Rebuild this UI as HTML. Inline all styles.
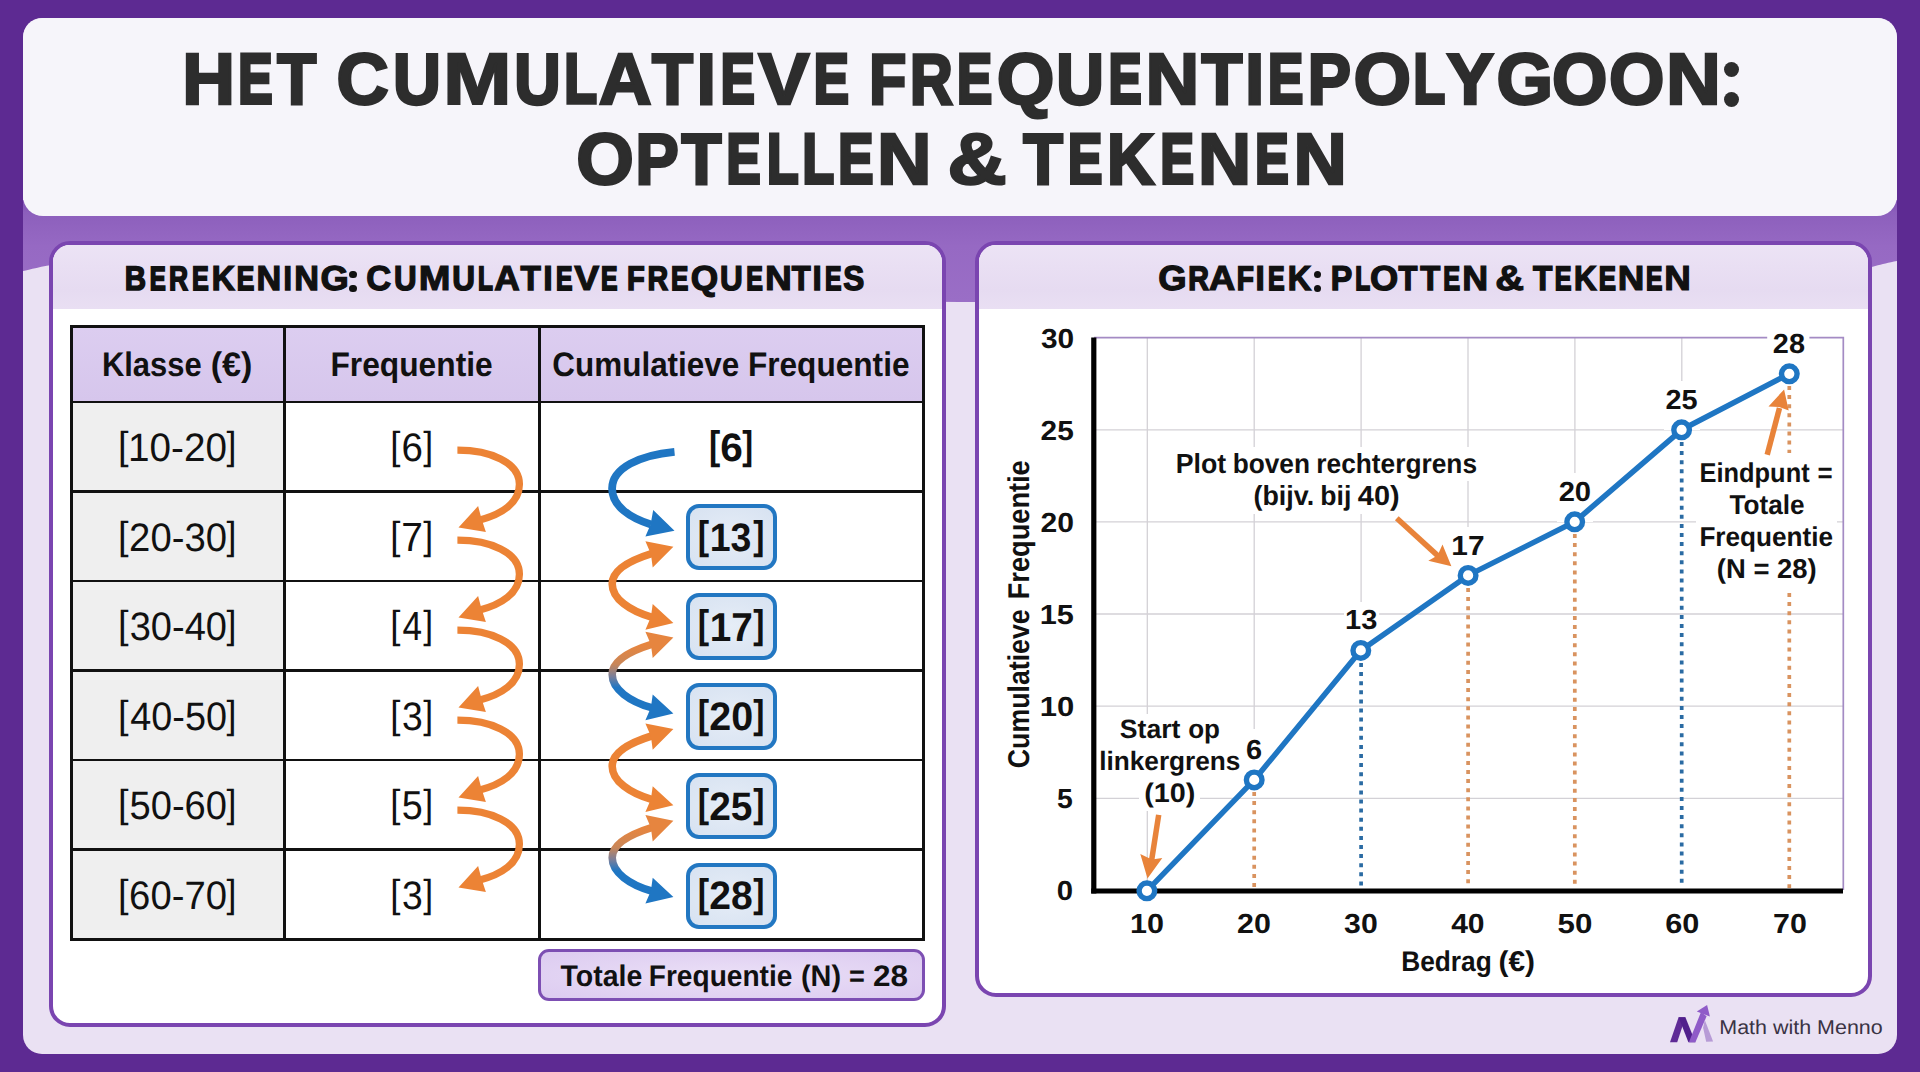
<!DOCTYPE html>
<html lang="nl">
<head>
<meta charset="utf-8">
<title>Het cumulatieve frequentiepolygoon: optellen &amp; tekenen</title>
<style>
*{box-sizing:border-box;margin:0;padding:0}
html,body{width:1920px;height:1072px;overflow:hidden}
body{background:#5d2a92;font-family:"Liberation Sans",sans-serif;position:relative}
.abs{position:absolute}
.t{position:absolute;left:0;top:0;white-space:nowrap;line-height:1;transform-origin:0 0;display:block}
#wrap{left:23px;top:18px;width:1874px;height:1036px;border-radius:19px;background:#eae1f3;overflow:hidden}
#title{left:23px;top:18px;width:1874px;height:198px;border-radius:20px;background:#f6f5fa}
.panel{border:4px solid #7a45b0;border-radius:21px;background:#fff;overflow:hidden}
#p1{left:49px;top:240.5px;width:896.5px;height:786px}
#p2{left:975px;top:240.5px;width:896.5px;height:756px}
.phead{position:absolute;left:0;top:0;right:0;height:64.5px;background:linear-gradient(180deg,#ece3f5 0%,#e6dbf1 70%,#e9dff3 100%)}
/* table */
#tbl{left:70px;top:324.5px;width:855px;height:616.5px;background:#111}
.cell{position:absolute;background:#fff}
.hd{background:linear-gradient(180deg,#dccdf0,#d6c6ec)}
.c1{background:#efefef}
.cbox{position:absolute;left:686px;width:90.5px;height:66.5px;border:4.5px solid #2277c2;border-radius:13px;background:radial-gradient(ellipse at center,#e6edf7 0%,#d7e2f1 100%)}
#tot{left:538px;top:949px;width:387px;height:51.5px;border:3px solid #7d4fb3;border-radius:11px;background:radial-gradient(ellipse at center,#ebe0f7 0%,#dccbf0 100%)}
svg{position:absolute;left:0;top:0;overflow:visible}
#txt,#txt text{font-family:"Liberation Sans",sans-serif}
</style>
</head>
<body>
<div id="wrap" class="abs"></div>
<!-- purple ribbon under title -->
<svg width="1920" height="1072" viewBox="0 0 1920 1072">
  <defs>
    <linearGradient id="band" x1="0" y1="0" x2="0" y2="1">
      <stop offset="0" stop-color="#7f4fb2"/>
      <stop offset="0.12" stop-color="#8c5fbc"/>
      <stop offset="0.45" stop-color="#9669c3"/>
      <stop offset="1" stop-color="#9a6ec6"/>
    </linearGradient>
  </defs>
  <path d="M23,200 H1897 V261 C1880,264 1872,268 1850,271 Q1500,300 960,302 Q400,300 60,264 C40,266 30,270 23,271 Z" fill="url(#band)"/>
</svg>
<div id="title" class="abs"></div>
<div class="abs" style="left:1723.7px;top:61.5px;width:15.6px;height:15.6px;border-radius:50%;background:#2d2d2d"></div>
<div class="abs" style="left:1723.7px;top:91.8px;width:15.6px;height:15.6px;border-radius:50%;background:#2d2d2d"></div>

<div id="p1" class="abs panel"><div class="phead"></div></div>
<div class="abs" style="left:349.2px;top:270.9px;width:7.4px;height:7.4px;border-radius:50%;background:#111"></div>
<div class="abs" style="left:349.2px;top:284.9px;width:7.4px;height:7.4px;border-radius:50%;background:#111"></div>
<div id="p2" class="abs panel"><div class="phead"></div></div>
<div class="abs" style="left:1313.7px;top:270.7px;width:7.4px;height:7.4px;border-radius:50%;background:#111"></div>
<div class="abs" style="left:1313.7px;top:284.7px;width:7.4px;height:7.4px;border-radius:50%;background:#111"></div>

<!-- table -->
<div id="tbl" class="abs">
  <!-- header row -->
  <div class="cell hd" style="left:3px;top:3px;width:210px;height:73.1px"></div>
  <div class="cell hd" style="left:216px;top:3px;width:251.5px;height:73.1px"></div>
  <div class="cell hd" style="left:470.5px;top:3px;width:381.5px;height:73.1px"></div>
  <div class="cell c1" style="left:3px;top:78.9px;width:210px;height:86.8px"></div><div class="cell" style="left:216px;top:78.9px;width:251.5px;height:86.8px"></div><div class="cell" style="left:470.5px;top:78.9px;width:381.5px;height:86.8px"></div>
  <div class="cell c1" style="left:3px;top:168.4px;width:210px;height:86.8px"></div><div class="cell" style="left:216px;top:168.4px;width:251.5px;height:86.8px"></div><div class="cell" style="left:470.5px;top:168.4px;width:381.5px;height:86.8px"></div>
  <div class="cell c1" style="left:3px;top:257.9px;width:210px;height:86.8px"></div><div class="cell" style="left:216px;top:257.9px;width:251.5px;height:86.8px"></div><div class="cell" style="left:470.5px;top:257.9px;width:381.5px;height:86.8px"></div>
  <div class="cell c1" style="left:3px;top:347.4px;width:210px;height:86.8px"></div><div class="cell" style="left:216px;top:347.4px;width:251.5px;height:86.8px"></div><div class="cell" style="left:470.5px;top:347.4px;width:381.5px;height:86.8px"></div>
  <div class="cell c1" style="left:3px;top:436.9px;width:210px;height:86.8px"></div><div class="cell" style="left:216px;top:436.9px;width:251.5px;height:86.8px"></div><div class="cell" style="left:470.5px;top:436.9px;width:381.5px;height:86.8px"></div>
  <div class="cell c1" style="left:3px;top:526.4px;width:210px;height:86.8px"></div><div class="cell" style="left:216px;top:526.4px;width:251.5px;height:86.8px"></div><div class="cell" style="left:470.5px;top:526.4px;width:381.5px;height:86.8px"></div>
</div>
<div id="tot" class="abs"></div>

<!-- cumulative value boxes -->
<div class="cbox" style="top:503.6px"></div>
<div class="cbox" style="top:593.2px"></div>
<div class="cbox" style="top:683px"></div>
<div class="cbox" style="top:772.8px"></div>
<div class="cbox" style="top:862.5px"></div>

<svg width="1920" height="1072" viewBox="0 0 1920 1072">
  <defs>
    <linearGradient id="ob" gradientUnits="userSpaceOnUse" x1="0" y1="-30" x2="0" y2="32">
      <stop offset="0" stop-color="#e6853f"/>
      <stop offset="0.30" stop-color="#c98658"/>
      <stop offset="0.50" stop-color="#7a7f9a"/>
      <stop offset="0.68" stop-color="#1f76c3"/>
      <stop offset="1" stop-color="#1f76c3"/>
    </linearGradient>
    <!-- frequency column arrow (orange) -->
    <g id="fa">
      <path d="M457.4,0 C490,0 519.4,12 519.4,34 C519.4,53 501,64.5 479,70" fill="none" stroke="#ec8335" stroke-width="7.3"/>
      <polygon points="458.5,77.2 478.1,55.9 481.5,68.5 485.9,81.7" fill="#ec8335"/>
    </g>
    <!-- cumulative column S arrow parts, local origin at mid y -->
    <path id="sc" d="M651.5,-31.2 C630,-24.5 612.2,-15 612.2,-1 C612.2,14 630,26 651.5,32.2" fill="none" stroke-width="7.6"/>
    <polygon id="sht" points="673.4,-38.1 645.4,-43.7 650.9,-31 652.7,-17.4"/>
    <polygon id="shb" points="673.4,38.1 652.7,19 650.9,32 645.4,44.8"/>
  </defs>

  <!-- frequency column arrows -->
  <use href="#fa" y="450.2"/>
  <use href="#fa" y="540.2"/>
  <use href="#fa" y="630.2"/>
  <use href="#fa" y="720.2"/>
  <use href="#fa" y="810.2"/>

  <!-- first blue arrow -->
  <path d="M674.5,451.8 C640,455 612.1,468 612.1,488.5 C612.1,506 630,518 651,524.5" fill="none" stroke="#1f76c3" stroke-width="7.8"/>
  <polygon points="674.5,530.8 653.2,510.1 650.6,524.5 645.4,536.4" fill="#1f76c3"/>

  <!-- orange double -->
  <g transform="translate(0,584.9)" fill="#ec8335" stroke="#ec8335"><use href="#sc"/><use href="#sht" stroke="none"/><use href="#shb" stroke="none"/></g>
  <!-- gradient orange->blue -->
  <g transform="translate(0,675.5)"><use href="#sc" stroke="url(#ob)"/><use href="#sht" fill="#e6853f"/><use href="#shb" fill="#1f76c3"/></g>
  <g transform="translate(0,767.2)" fill="#ec8335" stroke="#ec8335"><use href="#sc"/><use href="#sht" stroke="none"/><use href="#shb" stroke="none"/></g>
  <g transform="translate(0,858.8)"><use href="#sc" stroke="url(#ob)"/><use href="#sht" fill="#e6853f"/><use href="#shb" fill="#1f76c3"/></g>

  <!-- ================= CHART ================= -->
  <g id="chart">
    <!-- grid -->
    <g stroke="#d3d1d6" stroke-width="1.3" fill="none">
      <path d="M1147.3,338V889 M1254.2,338V780 M1361.1,338V650 M1468,338V575 M1574.9,338V522 M1681.8,338V430 M1788.7,338V374"/>
      <path d="M1094,429.8H1843 M1094,521.9H1843 M1094,614H1843 M1094,706.1H1843 M1094,798.3H1843"/>
    </g>
    <!-- top/right frame -->
    <path d="M1094,337.6 H1843.3 V890" fill="none" stroke="#a48bc4" stroke-width="1.7"/>
    <!-- white label backgrounds -->
    <g fill="#fff">
      <rect x="1172" y="447" width="309" height="34"/>
      <rect x="1249" y="480" width="154" height="34"/>
      <rect x="1115" y="714" width="108" height="34"/>
      <rect x="1098" y="746" width="146" height="34"/>
      <rect x="1139" y="779" width="61" height="32"/>
      <rect x="1696" y="456" width="141" height="136"/>
      <rect x="1243" y="729" width="22" height="51"/>
      <rect x="1344" y="602" width="35" height="48"/>
      <rect x="1450" y="527" width="36" height="48"/>
      <rect x="1557" y="473" width="36" height="49"/>
      <rect x="1664" y="381" width="36" height="49"/>
      <rect x="1767.2" y="326" width="42.2" height="20"/>
      <rect x="1771" y="340" width="36" height="34"/>
    </g>
    <!-- dotted drop lines -->
    <g fill="none" stroke-width="3.7" stroke-dasharray="4 5.1">
      <path d="M1254.2,792V888" stroke="#d9935f"/>
      <path d="M1361.1,663V888" stroke="#2a6ba3"/>
      <path d="M1468.1,588V888" stroke="#d9935f"/>
      <path d="M1574.8,534V888" stroke="#d9935f"/>
      <path d="M1681.7,442V888" stroke="#2a6ba3"/>
      <path d="M1789.3,386V453 M1789.3,593V888" stroke="#d9935f"/>
    </g>
    <!-- axes -->
    <path d="M1093.8,337.5 V893.5" stroke="#000" stroke-width="5.2" fill="none"/>
    <path d="M1091.2,891 H1843" stroke="#000" stroke-width="5" fill="none"/>
    <!-- polygon line -->
    <polyline points="1146.9,890.8 1254.2,779.9 1360.8,650.4 1468.1,575.4 1574.7,521.8 1681.6,429.8 1789.3,373.8" fill="none" stroke="#1f76c3" stroke-width="5.5" stroke-linejoin="round"/>
    <g fill="#fff" stroke="#1f76c3" stroke-width="5.4">
      <circle cx="1146.9" cy="890.8" r="7.8"/>
      <circle cx="1254.2" cy="779.9" r="7.8"/>
      <circle cx="1360.8" cy="650.4" r="7.8"/>
      <circle cx="1468.1" cy="575.4" r="7.8"/>
      <circle cx="1574.7" cy="521.8" r="7.8"/>
      <circle cx="1681.6" cy="429.8" r="7.8"/>
      <circle cx="1789.3" cy="373.8" r="7.8"/>
    </g>
    <!-- annotation arrows -->
    <g stroke="#e8833a" fill="#e8833a" stroke-width="5.5">
      <path d="M1396.8,518.3 L1438.5,556.4" fill="none"/>
      <polygon points="1451.4,566.2 1442.5,544.5 1437.5,555.5 1428.3,560.7" stroke="none"/>
      <path d="M1158.7,814.9 L1151.6,860.5" fill="none"/>
      <polygon points="1147.5,878.5 1140.3,853.9 1151.8,859.5 1162.3,858" stroke="none"/>
      <path d="M1767.2,454.7 L1779.5,408" fill="none"/>
      <polygon points="1784.1,389.5 1768.5,406.4 1779.3,407 1788.7,410.5" stroke="none"/>
    </g>
  </g>

  <!-- logo -->
  <g id="logo">
    <polygon points="1670,1042.3 1677.2,1042.3 1685.4,1017.3 1678.6,1017.3" fill="#5f2a96"/>
    <polygon points="1678.6,1017.3 1685.4,1017.3 1695.4,1042.3 1688.4,1042.3" fill="#501f8c"/>
    <polygon points="1688.9,1042.3 1695.4,1042.3 1706.6,1016.2 1701,1012" fill="#8f5bc8"/>
    <polygon points="1696.8,1011.5 1707.1,1005 1709.9,1016.6" fill="#8f5bc8"/>
    <polygon points="1704.8,1019.9 1713.1,1041.6 1706.2,1041.8 1703.1,1027.8" fill="#b79bd6"/>
  </g>
</svg>

<svg id="txt" width="1920" height="1072" viewBox="0 0 1920 1072" text-rendering="geometricPrecision">
<text transform="translate(101.89,375.90) scale(0.9110,1)" font-size="34" font-weight="700" fill="#111">Klasse</text>
<text transform="translate(210.77,375.90) scale(1.0028,1)" font-size="34" font-weight="700" fill="#111">(€)</text>
<text transform="translate(330.44,375.90) scale(0.9335,1)" font-size="34" font-weight="700" fill="#111">Frequentie</text>
<text transform="translate(552.34,375.90) scale(0.9246,1)" font-size="34" font-weight="700" fill="#111">Cumulatieve</text>
<text transform="translate(747.95,375.90) scale(0.9294,1)" font-size="34" font-weight="700" fill="#111">Frequentie</text>
<text transform="translate(117.94,458.98) scale(0.9709,1)" font-size="39.14" font-weight="400" fill="#111">[</text>
<text transform="translate(128.10,461.10) scale(0.9735,1)" font-size="39.72" font-weight="400" fill="#111">10-20</text>
<text transform="translate(226.52,458.98) scale(0.9098,1)" font-size="39.14" font-weight="400" fill="#111">]</text>
<text transform="translate(390.25,458.98) scale(0.9325,1)" font-size="39.14" font-weight="400" fill="#111">[</text>
<text transform="translate(401.38,461.10) scale(0.9691,1)" font-size="39.72" font-weight="400" fill="#111">6</text>
<text transform="translate(423.22,458.98) scale(0.9098,1)" font-size="39.14" font-weight="400" fill="#111">]</text>
<text transform="translate(709.05,459.22) scale(0.8449,1)" font-size="39.89" font-weight="700" fill="#111">[</text>
<text transform="translate(720.18,461.40) scale(1.0262,1)" font-size="39.58" font-weight="700" fill="#111">6</text>
<text transform="translate(742.17,459.22) scale(0.8171,1)" font-size="39.89" font-weight="700" fill="#111">]</text>
<text transform="translate(117.94,548.52) scale(0.9709,1)" font-size="39.14" font-weight="400" fill="#111">[</text>
<text transform="translate(129.09,550.64) scale(0.9637,1)" font-size="39.72" font-weight="400" fill="#111">20-30</text>
<text transform="translate(226.52,548.52) scale(0.9098,1)" font-size="39.14" font-weight="400" fill="#111">]</text>
<text transform="translate(390.25,548.52) scale(0.9325,1)" font-size="39.14" font-weight="400" fill="#111">[</text>
<text transform="translate(401.35,551.04) scale(0.9521,1)" font-size="40.87" font-weight="400" fill="#111">7</text>
<text transform="translate(423.22,548.52) scale(0.9098,1)" font-size="39.14" font-weight="400" fill="#111">]</text>
<text transform="translate(697.83,548.76) scale(0.8542,1)" font-size="39.89" font-weight="700" fill="#111">[</text>
<text transform="translate(709.75,550.94) scale(0.9473,1)" font-size="39.58" font-weight="700" fill="#111">13</text>
<text transform="translate(753.36,548.76) scale(0.8449,1)" font-size="39.89" font-weight="700" fill="#111">]</text>
<text transform="translate(117.94,638.06) scale(0.9709,1)" font-size="39.14" font-weight="400" fill="#111">[</text>
<text transform="translate(129.67,640.18) scale(0.9579,1)" font-size="39.72" font-weight="400" fill="#111">30-40</text>
<text transform="translate(226.52,638.06) scale(0.9098,1)" font-size="39.14" font-weight="400" fill="#111">]</text>
<text transform="translate(390.25,638.06) scale(0.9325,1)" font-size="39.14" font-weight="400" fill="#111">[</text>
<text transform="translate(402.60,640.38) scale(0.8649,1)" font-size="40.58" font-weight="400" fill="#111">4</text>
<text transform="translate(423.22,638.06) scale(0.9098,1)" font-size="39.14" font-weight="400" fill="#111">]</text>
<text transform="translate(697.83,638.30) scale(0.8542,1)" font-size="39.89" font-weight="700" fill="#111">[</text>
<text transform="translate(709.67,640.68) scale(0.9589,1)" font-size="40.43" font-weight="700" fill="#111">17</text>
<text transform="translate(753.36,638.30) scale(0.8449,1)" font-size="39.89" font-weight="700" fill="#111">]</text>
<text transform="translate(117.94,727.60) scale(0.9709,1)" font-size="39.14" font-weight="400" fill="#111">[</text>
<text transform="translate(130.24,729.72) scale(0.9521,1)" font-size="39.72" font-weight="400" fill="#111">40-50</text>
<text transform="translate(226.52,727.60) scale(0.9098,1)" font-size="39.14" font-weight="400" fill="#111">]</text>
<text transform="translate(390.25,727.60) scale(0.9325,1)" font-size="39.14" font-weight="400" fill="#111">[</text>
<text transform="translate(401.99,729.72) scale(0.9389,1)" font-size="39.72" font-weight="400" fill="#111">3</text>
<text transform="translate(423.22,727.60) scale(0.9098,1)" font-size="39.14" font-weight="400" fill="#111">]</text>
<text transform="translate(697.83,727.84) scale(0.8542,1)" font-size="39.89" font-weight="700" fill="#111">[</text>
<text transform="translate(709.22,730.02) scale(0.9974,1)" font-size="39.58" font-weight="700" fill="#111">20</text>
<text transform="translate(753.36,727.84) scale(0.8449,1)" font-size="39.89" font-weight="700" fill="#111">]</text>
<text transform="translate(117.94,817.14) scale(0.9709,1)" font-size="39.14" font-weight="400" fill="#111">[</text>
<text transform="translate(129.48,819.26) scale(0.9598,1)" font-size="39.72" font-weight="400" fill="#111">50-60</text>
<text transform="translate(226.52,817.14) scale(0.9098,1)" font-size="39.14" font-weight="400" fill="#111">]</text>
<text transform="translate(390.25,817.14) scale(0.9325,1)" font-size="39.14" font-weight="400" fill="#111">[</text>
<text transform="translate(401.79,819.26) scale(0.9353,1)" font-size="40.29" font-weight="400" fill="#111">5</text>
<text transform="translate(423.22,817.14) scale(0.9098,1)" font-size="39.14" font-weight="400" fill="#111">]</text>
<text transform="translate(697.83,817.38) scale(0.8542,1)" font-size="39.89" font-weight="700" fill="#111">[</text>
<text transform="translate(709.23,819.56) scale(0.9832,1)" font-size="39.58" font-weight="700" fill="#111">25</text>
<text transform="translate(753.36,817.38) scale(0.8449,1)" font-size="39.89" font-weight="700" fill="#111">]</text>
<text transform="translate(117.94,906.68) scale(0.9709,1)" font-size="39.14" font-weight="400" fill="#111">[</text>
<text transform="translate(129.09,908.80) scale(0.9637,1)" font-size="39.72" font-weight="400" fill="#111">60-70</text>
<text transform="translate(226.52,906.68) scale(0.9098,1)" font-size="39.14" font-weight="400" fill="#111">]</text>
<text transform="translate(390.25,906.68) scale(0.9325,1)" font-size="39.14" font-weight="400" fill="#111">[</text>
<text transform="translate(401.99,908.80) scale(0.9389,1)" font-size="39.72" font-weight="400" fill="#111">3</text>
<text transform="translate(423.22,906.68) scale(0.9098,1)" font-size="39.14" font-weight="400" fill="#111">]</text>
<text transform="translate(697.83,906.92) scale(0.8542,1)" font-size="39.89" font-weight="700" fill="#111">[</text>
<text transform="translate(709.23,909.10) scale(0.9880,1)" font-size="39.58" font-weight="700" fill="#111">28</text>
<text transform="translate(753.36,906.92) scale(0.8449,1)" font-size="39.89" font-weight="700" fill="#111">]</text>
<text transform="translate(560.52,985.50) scale(0.9559,1)" font-size="29.8" font-weight="700" fill="#111">Totale</text>
<text transform="translate(648.77,985.50) scale(0.9427,1)" font-size="29.8" font-weight="700" fill="#111">Frequentie</text>
<text transform="translate(801.00,985.50) scale(0.9690,1)" font-size="29.8" font-weight="700" fill="#111">(N)</text>
<text transform="translate(848.91,985.50) scale(0.9104,1)" font-size="29.8" font-weight="700" fill="#111">=</text>
<text transform="translate(873.05,985.50) scale(1.0580,1)" font-size="29.8" font-weight="700" fill="#111">28</text>
<text transform="translate(1040.90,347.50) scale(1.0846,1)" font-size="27.5" font-weight="700" fill="#111">30</text>
<text transform="translate(1040.61,439.63) scale(1.0846,1)" font-size="27.5" font-weight="700" fill="#111">25</text>
<text transform="translate(1040.60,531.76) scale(1.0949,1)" font-size="27.5" font-weight="700" fill="#111">20</text>
<text transform="translate(1039.66,623.89) scale(1.1163,1)" font-size="27.5" font-weight="700" fill="#111">15</text>
<text transform="translate(1039.64,716.02) scale(1.1272,1)" font-size="27.5" font-weight="700" fill="#111">10</text>
<text transform="translate(1056.95,808.15) scale(1.0327,1)" font-size="27.5" font-weight="700" fill="#111">5</text>
<text transform="translate(1056.78,900.28) scale(1.0647,1)" font-size="27.5" font-weight="700" fill="#111">0</text>
<text transform="translate(1129.97,933.10) scale(1.1094,1)" font-size="27.5" font-weight="700" fill="#111">10</text>
<text transform="translate(1236.99,933.10) scale(1.1053,1)" font-size="27.5" font-weight="700" fill="#111">20</text>
<text transform="translate(1344.10,933.10) scale(1.0983,1)" font-size="27.5" font-weight="700" fill="#111">30</text>
<text transform="translate(1451.15,933.10) scale(1.0932,1)" font-size="27.5" font-weight="700" fill="#111">40</text>
<text transform="translate(1557.56,933.10) scale(1.1366,1)" font-size="27.5" font-weight="700" fill="#111">50</text>
<text transform="translate(1665.13,933.10) scale(1.1142,1)" font-size="27.5" font-weight="700" fill="#111">60</text>
<text transform="translate(1773.08,933.10) scale(1.1055,1)" font-size="27.5" font-weight="700" fill="#111">70</text>
<text transform="translate(1401.19,971.10) scale(0.9221,1)" font-size="28.5" font-weight="700" fill="#111">Bedrag</text>
<text transform="translate(1498.46,971.10) scale(1.0472,1)" font-size="28.5" font-weight="700" fill="#111">(€)</text>
<text transform="translate(1245.99,758.80) scale(1.0497,1)" font-size="27.5" font-weight="700" fill="#111">6</text>
<text transform="translate(1345.06,629.10) scale(1.0557,1)" font-size="27.5" font-weight="700" fill="#111">13</text>
<text transform="translate(1451.31,554.80) scale(1.0861,1)" font-size="27.5" font-weight="700" fill="#111">17</text>
<text transform="translate(1558.63,501.00) scale(1.0602,1)" font-size="27.5" font-weight="700" fill="#111">20</text>
<text transform="translate(1665.53,408.80) scale(1.0501,1)" font-size="27.5" font-weight="700" fill="#111">25</text>
<text transform="translate(1772.83,352.50) scale(1.0501,1)" font-size="27.5" font-weight="700" fill="#111">28</text>
<text transform="translate(1175.66,472.80) scale(0.9678,1)" font-size="27.6" font-weight="700" fill="#111">Plot</text>
<text transform="translate(1232.69,472.80) scale(0.9511,1)" font-size="27.6" font-weight="700" fill="#111">boven</text>
<text transform="translate(1316.29,472.80) scale(0.9527,1)" font-size="27.6" font-weight="700" fill="#111">rechtergrens</text>
<text transform="translate(1253.49,505.20) scale(0.9723,1)" font-size="27.6" font-weight="700" fill="#111">(bijv.</text>
<text transform="translate(1320.27,505.20) scale(0.9639,1)" font-size="27.6" font-weight="700" fill="#111">bij</text>
<text transform="translate(1357.87,505.20) scale(1.0458,1)" font-size="27.6" font-weight="700" fill="#111">40)</text>
<text transform="translate(1119.84,737.60) scale(0.9996,1)" font-size="26.6" font-weight="700" fill="#111">Start</text>
<text transform="translate(1188.19,737.60) scale(0.9777,1)" font-size="26.6" font-weight="700" fill="#111">op</text>
<text transform="translate(1099.20,769.50) scale(0.9850,1)" font-size="26.6" font-weight="700" fill="#111">linkergrens</text>
<text transform="translate(1144.20,802.30) scale(1.0738,1)" font-size="26.8" font-weight="700" fill="#111">(10)</text>
<text transform="translate(1699.45,482.40) scale(0.9357,1)" font-size="27.2" font-weight="700" fill="#111">Eindpunt</text>
<text transform="translate(1817.56,482.40) scale(0.9537,1)" font-size="27.2" font-weight="700" fill="#111">=</text>
<text transform="translate(1729.54,514.40) scale(0.9615,1)" font-size="27.2" font-weight="700" fill="#111">Totale</text>
<text transform="translate(1699.40,546.40) scale(0.9617,1)" font-size="27.2" font-weight="700" fill="#111">Frequentie</text>
<text transform="translate(1716.87,578.40) scale(1.0085,1)" font-size="27.2" font-weight="700" fill="#111">(N = 28)</text>
<text transform="translate(1719.28,1034.00) scale(1.0729,1)" font-size="20" font-weight="400" fill="#3a3344">Math with Menno</text>
<text transform="translate(1029.30,768.17) rotate(-90) scale(0.8902,1)" font-size="30" font-weight="700" fill="#111">Cumulatieve</text>
<text transform="translate(1029.30,599.27) rotate(-90) scale(0.9065,1)" font-size="30" font-weight="700" fill="#111">Frequentie</text>
<text transform="translate(182.25,103.91) scale(1.0077,1)" font-size="72.50" font-weight="700" fill="#2d2d2d" stroke="#2d2d2d" stroke-width="2.57">H</text>
<text transform="translate(238.29,103.24) scale(0.7286,1)" font-size="70.55" font-weight="700" fill="#2d2d2d" stroke="#2d2d2d" stroke-width="3.92">E</text>
<text transform="translate(277.21,103.69) scale(0.8891,1)" font-size="71.84" font-weight="700" fill="#2d2d2d" stroke="#2d2d2d" stroke-width="3.03">T</text>
<text transform="translate(336.50,103.90) scale(0.9987,1)" font-size="72.46" font-weight="700" fill="#2d2d2d" stroke="#2d2d2d" stroke-width="2.60">C</text>
<text transform="translate(393.05,103.75) scale(0.9209,1)" font-size="72.04" font-weight="700" fill="#2d2d2d" stroke="#2d2d2d" stroke-width="2.89">U</text>
<text transform="translate(443.34,104.08) scale(1.1212,1)" font-size="72.98" font-weight="700" fill="#2d2d2d" stroke="#2d2d2d" stroke-width="2.24">M</text>
<text transform="translate(514.28,103.70) scale(0.8948,1)" font-size="71.88" font-weight="700" fill="#2d2d2d" stroke="#2d2d2d" stroke-width="3.00">U</text>
<text transform="translate(564.23,103.33) scale(0.7569,1)" font-size="70.82" font-weight="700" fill="#2d2d2d" stroke="#2d2d2d" stroke-width="3.73">L</text>
<text transform="translate(598.83,103.92) scale(1.0101,1)" font-size="72.51" font-weight="700" fill="#2d2d2d" stroke="#2d2d2d" stroke-width="2.57">A</text>
<text transform="translate(652.06,103.78) scale(0.9311,1)" font-size="72.10" font-weight="700" fill="#2d2d2d" stroke="#2d2d2d" stroke-width="2.85">T</text>
<text transform="translate(696.78,103.81) scale(0.9474,1)" font-size="72.19" font-weight="700" fill="#2d2d2d" stroke="#2d2d2d" stroke-width="2.79">I</text>
<text transform="translate(720.83,103.21) scale(0.7216,1)" font-size="70.47" font-weight="700" fill="#2d2d2d" stroke="#2d2d2d" stroke-width="3.97">E</text>
<text transform="translate(758.19,103.99) scale(1.0591,1)" font-size="72.73" font-weight="700" fill="#2d2d2d" stroke="#2d2d2d" stroke-width="2.41">V</text>
<text transform="translate(813.70,103.29) scale(0.7449,1)" font-size="70.71" font-weight="700" fill="#2d2d2d" stroke="#2d2d2d" stroke-width="3.81">E</text>
<text transform="translate(869.33,103.58) scale(0.8459,1)" font-size="71.55" font-weight="700" fill="#2d2d2d" stroke="#2d2d2d" stroke-width="3.23">F</text>
<text transform="translate(909.93,103.54) scale(0.8281,1)" font-size="71.42" font-weight="700" fill="#2d2d2d" stroke="#2d2d2d" stroke-width="3.32">R</text>
<text transform="translate(957.00,103.29) scale(0.7449,1)" font-size="70.71" font-weight="700" fill="#2d2d2d" stroke="#2d2d2d" stroke-width="3.81">E</text>
<text transform="translate(996.82,103.94) scale(1.0220,1)" font-size="72.57" font-weight="700" fill="#2d2d2d" stroke="#2d2d2d" stroke-width="2.53">Q</text>
<text transform="translate(1056.27,103.75) scale(0.9166,1)" font-size="72.02" font-weight="700" fill="#2d2d2d" stroke="#2d2d2d" stroke-width="2.91">U</text>
<text transform="translate(1108.66,103.13) scale(0.6983,1)" font-size="70.22" font-weight="700" fill="#2d2d2d" stroke="#2d2d2d" stroke-width="4.15">E</text>
<text transform="translate(1145.45,103.94) scale(1.0255,1)" font-size="72.58" font-weight="700" fill="#2d2d2d" stroke="#2d2d2d" stroke-width="2.52">N</text>
<text transform="translate(1201.46,103.77) scale(0.9289,1)" font-size="72.09" font-weight="700" fill="#2d2d2d" stroke="#2d2d2d" stroke-width="2.86">T</text>
<text transform="translate(1245.23,103.79) scale(0.9381,1)" font-size="72.14" font-weight="700" fill="#2d2d2d" stroke="#2d2d2d" stroke-width="2.82">I</text>
<text transform="translate(1267.98,103.30) scale(0.7473,1)" font-size="70.73" font-weight="700" fill="#2d2d2d" stroke="#2d2d2d" stroke-width="3.80">E</text>
<text transform="translate(1307.73,103.71) scale(0.9006,1)" font-size="71.91" font-weight="700" fill="#2d2d2d" stroke="#2d2d2d" stroke-width="2.98">P</text>
<text transform="translate(1353.53,103.93) scale(1.0201,1)" font-size="72.56" font-weight="700" fill="#2d2d2d" stroke="#2d2d2d" stroke-width="2.53">O</text>
<text transform="translate(1413.57,103.25) scale(0.7315,1)" font-size="70.58" font-weight="700" fill="#2d2d2d" stroke="#2d2d2d" stroke-width="3.90">L</text>
<text transform="translate(1446.44,103.87) scale(0.9820,1)" font-size="72.37" font-weight="700" fill="#2d2d2d" stroke="#2d2d2d" stroke-width="2.66">Y</text>
<text transform="translate(1496.59,103.91) scale(1.0043,1)" font-size="72.48" font-weight="700" fill="#2d2d2d" stroke="#2d2d2d" stroke-width="2.59">G</text>
<text transform="translate(1552.06,103.87) scale(0.9845,1)" font-size="72.39" font-weight="700" fill="#2d2d2d" stroke="#2d2d2d" stroke-width="2.65">O</text>
<text transform="translate(1608.96,103.87) scale(0.9845,1)" font-size="72.39" font-weight="700" fill="#2d2d2d" stroke="#2d2d2d" stroke-width="2.65">O</text>
<text transform="translate(1665.94,103.97) scale(1.0456,1)" font-size="72.67" font-weight="700" fill="#2d2d2d" stroke="#2d2d2d" stroke-width="2.46">N</text>
<text transform="translate(576.23,184.13) scale(1.0201,1)" font-size="72.56" font-weight="700" fill="#2d2d2d" stroke="#2d2d2d" stroke-width="2.53">O</text>
<text transform="translate(635.43,183.91) scale(0.9006,1)" font-size="71.91" font-weight="700" fill="#2d2d2d" stroke="#2d2d2d" stroke-width="2.98">P</text>
<text transform="translate(681.48,183.93) scale(0.9090,1)" font-size="71.97" font-weight="700" fill="#2d2d2d" stroke="#2d2d2d" stroke-width="2.94">T</text>
<text transform="translate(726.41,183.42) scale(0.7239,1)" font-size="70.50" font-weight="700" fill="#2d2d2d" stroke="#2d2d2d" stroke-width="3.96">E</text>
<text transform="translate(766.97,183.45) scale(0.7315,1)" font-size="70.58" font-weight="700" fill="#2d2d2d" stroke="#2d2d2d" stroke-width="3.90">L</text>
<text transform="translate(802.57,183.45) scale(0.7315,1)" font-size="70.58" font-weight="700" fill="#2d2d2d" stroke="#2d2d2d" stroke-width="3.90">L</text>
<text transform="translate(838.20,183.49) scale(0.7449,1)" font-size="70.71" font-weight="700" fill="#2d2d2d" stroke="#2d2d2d" stroke-width="3.81">E</text>
<text transform="translate(877.08,184.16) scale(1.0389,1)" font-size="72.64" font-weight="700" fill="#2d2d2d" stroke="#2d2d2d" stroke-width="2.48">N</text>
<text transform="translate(947.38,184.28) scale(1.1230,1)" font-size="72.99" font-weight="700" fill="#2d2d2d" stroke="#2d2d2d" stroke-width="2.24">&amp;</text>
<text transform="translate(1023.19,183.92) scale(0.9024,1)" font-size="71.93" font-weight="700" fill="#2d2d2d" stroke="#2d2d2d" stroke-width="2.97">T</text>
<text transform="translate(1067.99,183.44) scale(0.7286,1)" font-size="70.55" font-weight="700" fill="#2d2d2d" stroke="#2d2d2d" stroke-width="3.92">E</text>
<text transform="translate(1107.06,183.94) scale(0.9131,1)" font-size="71.99" font-weight="700" fill="#2d2d2d" stroke="#2d2d2d" stroke-width="2.92">K</text>
<text transform="translate(1160.49,183.37) scale(0.7099,1)" font-size="70.35" font-weight="700" fill="#2d2d2d" stroke="#2d2d2d" stroke-width="4.06">E</text>
<text transform="translate(1198.11,184.12) scale(1.0144,1)" font-size="72.53" font-weight="700" fill="#2d2d2d" stroke="#2d2d2d" stroke-width="2.55">N</text>
<text transform="translate(1255.29,183.37) scale(0.7099,1)" font-size="70.35" font-weight="700" fill="#2d2d2d" stroke="#2d2d2d" stroke-width="4.06">E</text>
<text transform="translate(1293.50,184.13) scale(1.0166,1)" font-size="72.54" font-weight="700" fill="#2d2d2d" stroke="#2d2d2d" stroke-width="2.55">N</text>
<text transform="translate(124.66,290.01) scale(0.8616,1)" font-size="34.24" font-weight="700" fill="#111" stroke="#111" stroke-width="1.58">B</text>
<text transform="translate(149.76,289.79) scale(0.7143,1)" font-size="33.60" font-weight="700" fill="#111" stroke="#111" stroke-width="2.01">E</text>
<text transform="translate(169.08,289.90) scale(0.7786,1)" font-size="33.92" font-weight="700" fill="#111" stroke="#111" stroke-width="1.80">R</text>
<text transform="translate(191.98,289.84) scale(0.7435,1)" font-size="33.75" font-weight="700" fill="#111" stroke="#111" stroke-width="1.91">E</text>
<text transform="translate(211.69,290.08) scale(0.9277,1)" font-size="34.45" font-weight="700" fill="#111" stroke="#111" stroke-width="1.43">K</text>
<text transform="translate(236.79,289.90) scale(0.7776,1)" font-size="33.91" font-weight="700" fill="#111" stroke="#111" stroke-width="1.80">E</text>
<text transform="translate(256.43,290.14) scale(0.9890,1)" font-size="34.61" font-weight="700" fill="#111" stroke="#111" stroke-width="1.32">N</text>
<text transform="translate(283.40,290.04) scale(0.8846,1)" font-size="34.32" font-weight="700" fill="#111" stroke="#111" stroke-width="1.52">I</text>
<text transform="translate(294.23,290.14) scale(0.9890,1)" font-size="34.61" font-weight="700" fill="#111" stroke="#111" stroke-width="1.32">N</text>
<text transform="translate(320.39,290.19) scale(1.0462,1)" font-size="34.74" font-weight="700" fill="#111" stroke="#111" stroke-width="1.23">G</text>
<text transform="translate(366.27,290.15) scale(0.9963,1)" font-size="34.63" font-weight="700" fill="#111" stroke="#111" stroke-width="1.31">C</text>
<text transform="translate(393.99,290.07) scale(0.9113,1)" font-size="34.40" font-weight="700" fill="#111" stroke="#111" stroke-width="1.47">U</text>
<text transform="translate(418.66,290.22) scale(1.0924,1)" font-size="34.84" font-weight="700" fill="#111" stroke="#111" stroke-width="1.16">M</text>
<text transform="translate(452.28,290.07) scale(0.9158,1)" font-size="34.41" font-weight="700" fill="#111" stroke="#111" stroke-width="1.46">U</text>
<text transform="translate(477.93,289.81) scale(0.7239,1)" font-size="33.66" font-weight="700" fill="#111" stroke="#111" stroke-width="1.98">L</text>
<text transform="translate(494.24,290.16) scale(1.0180,1)" font-size="34.68" font-weight="700" fill="#111" stroke="#111" stroke-width="1.27">A</text>
<text transform="translate(520.62,290.12) scale(0.9627,1)" font-size="34.54" font-weight="700" fill="#111" stroke="#111" stroke-width="1.37">T</text>
<text transform="translate(543.35,290.13) scale(0.9817,1)" font-size="34.59" font-weight="700" fill="#111" stroke="#111" stroke-width="1.33">I</text>
<text transform="translate(556.01,289.83) scale(0.7338,1)" font-size="33.70" font-weight="700" fill="#111" stroke="#111" stroke-width="1.94">E</text>
<text transform="translate(574.25,290.21) scale(1.0763,1)" font-size="34.81" font-weight="700" fill="#111" stroke="#111" stroke-width="1.18">V</text>
<text transform="translate(601.01,289.83) scale(0.7338,1)" font-size="33.70" font-weight="700" fill="#111" stroke="#111" stroke-width="1.94">E</text>
<text transform="translate(627.09,290.00) scale(0.8506,1)" font-size="34.20" font-weight="700" fill="#111" stroke="#111" stroke-width="1.60">F</text>
<text transform="translate(647.52,289.98) scale(0.8386,1)" font-size="34.16" font-weight="700" fill="#111" stroke="#111" stroke-width="1.63">R</text>
<text transform="translate(670.91,289.88) scale(0.7679,1)" font-size="33.87" font-weight="700" fill="#111" stroke="#111" stroke-width="1.83">E</text>
<text transform="translate(690.83,290.16) scale(1.0177,1)" font-size="34.68" font-weight="700" fill="#111" stroke="#111" stroke-width="1.27">Q</text>
<text transform="translate(719.88,290.07) scale(0.9158,1)" font-size="34.41" font-weight="700" fill="#111" stroke="#111" stroke-width="1.46">U</text>
<text transform="translate(746.19,289.84) scale(0.7387,1)" font-size="33.73" font-weight="700" fill="#111" stroke="#111" stroke-width="1.93">E</text>
<text transform="translate(765.02,290.20) scale(1.0681,1)" font-size="34.79" font-weight="700" fill="#111" stroke="#111" stroke-width="1.19">N</text>
<text transform="translate(791.76,290.05) scale(0.8981,1)" font-size="34.36" font-weight="700" fill="#111" stroke="#111" stroke-width="1.49">T</text>
<text transform="translate(812.40,290.12) scale(0.9625,1)" font-size="34.55" font-weight="700" fill="#111" stroke="#111" stroke-width="1.36">I</text>
<text transform="translate(825.01,289.83) scale(0.7338,1)" font-size="33.70" font-weight="700" fill="#111" stroke="#111" stroke-width="1.94">E</text>
<text transform="translate(843.28,290.07) scale(0.9158,1)" font-size="34.41" font-weight="700" fill="#111" stroke="#111" stroke-width="1.46">S</text>
<text transform="translate(1158.28,289.99) scale(1.0502,1)" font-size="34.75" font-weight="700" fill="#111" stroke="#111" stroke-width="1.22">G</text>
<text transform="translate(1188.22,289.78) scale(0.8386,1)" font-size="34.16" font-weight="700" fill="#111" stroke="#111" stroke-width="1.63">R</text>
<text transform="translate(1209.01,289.99) scale(1.0462,1)" font-size="34.74" font-weight="700" fill="#111" stroke="#111" stroke-width="1.23">A</text>
<text transform="translate(1236.76,289.76) scale(0.8236,1)" font-size="34.10" font-weight="700" fill="#111" stroke="#111" stroke-width="1.67">F</text>
<text transform="translate(1255.40,289.92) scale(0.9625,1)" font-size="34.55" font-weight="700" fill="#111" stroke="#111" stroke-width="1.36">I</text>
<text transform="translate(1267.89,289.64) scale(0.7387,1)" font-size="33.73" font-weight="700" fill="#111" stroke="#111" stroke-width="1.93">E</text>
<text transform="translate(1287.74,289.90) scale(0.9446,1)" font-size="34.49" font-weight="700" fill="#111" stroke="#111" stroke-width="1.40">K</text>
<text transform="translate(1330.67,289.89) scale(0.9353,1)" font-size="34.47" font-weight="700" fill="#111" stroke="#111" stroke-width="1.42">P</text>
<text transform="translate(1355.13,289.61) scale(0.7239,1)" font-size="33.66" font-weight="700" fill="#111" stroke="#111" stroke-width="1.98">L</text>
<text transform="translate(1369.99,289.99) scale(1.0451,1)" font-size="34.74" font-weight="700" fill="#111" stroke="#111" stroke-width="1.23">O</text>
<text transform="translate(1398.56,289.85) scale(0.8981,1)" font-size="34.36" font-weight="700" fill="#111" stroke="#111" stroke-width="1.49">T</text>
<text transform="translate(1420.33,289.90) scale(0.9488,1)" font-size="34.51" font-weight="700" fill="#111" stroke="#111" stroke-width="1.39">T</text>
<text transform="translate(1443.27,289.65) scale(0.7484,1)" font-size="33.78" font-weight="700" fill="#111" stroke="#111" stroke-width="1.89">E</text>
<text transform="translate(1462.32,289.97) scale(1.0309,1)" font-size="34.71" font-weight="700" fill="#111" stroke="#111" stroke-width="1.25">N</text>
<text transform="translate(1495.13,290.05) scale(1.1428,1)" font-size="34.94" font-weight="700" fill="#111" stroke="#111" stroke-width="1.09">&amp;</text>
<text transform="translate(1532.95,289.88) scale(0.9211,1)" font-size="34.43" font-weight="700" fill="#111" stroke="#111" stroke-width="1.44">T</text>
<text transform="translate(1554.78,289.64) scale(0.7435,1)" font-size="33.75" font-weight="700" fill="#111" stroke="#111" stroke-width="1.91">E</text>
<text transform="translate(1573.93,289.87) scale(0.9108,1)" font-size="34.40" font-weight="700" fill="#111" stroke="#111" stroke-width="1.47">K</text>
<text transform="translate(1598.83,289.68) scale(0.7630,1)" font-size="33.84" font-weight="700" fill="#111" stroke="#111" stroke-width="1.85">E</text>
<text transform="translate(1617.65,290.00) scale(1.0588,1)" font-size="34.77" font-weight="700" fill="#111" stroke="#111" stroke-width="1.21">N</text>
<text transform="translate(1645.92,289.62) scale(0.7289,1)" font-size="33.68" font-weight="700" fill="#111" stroke="#111" stroke-width="1.96">E</text>
<text transform="translate(1664.35,290.00) scale(1.0588,1)" font-size="34.77" font-weight="700" fill="#111" stroke="#111" stroke-width="1.21">N</text>
</svg>
</body>
</html>
